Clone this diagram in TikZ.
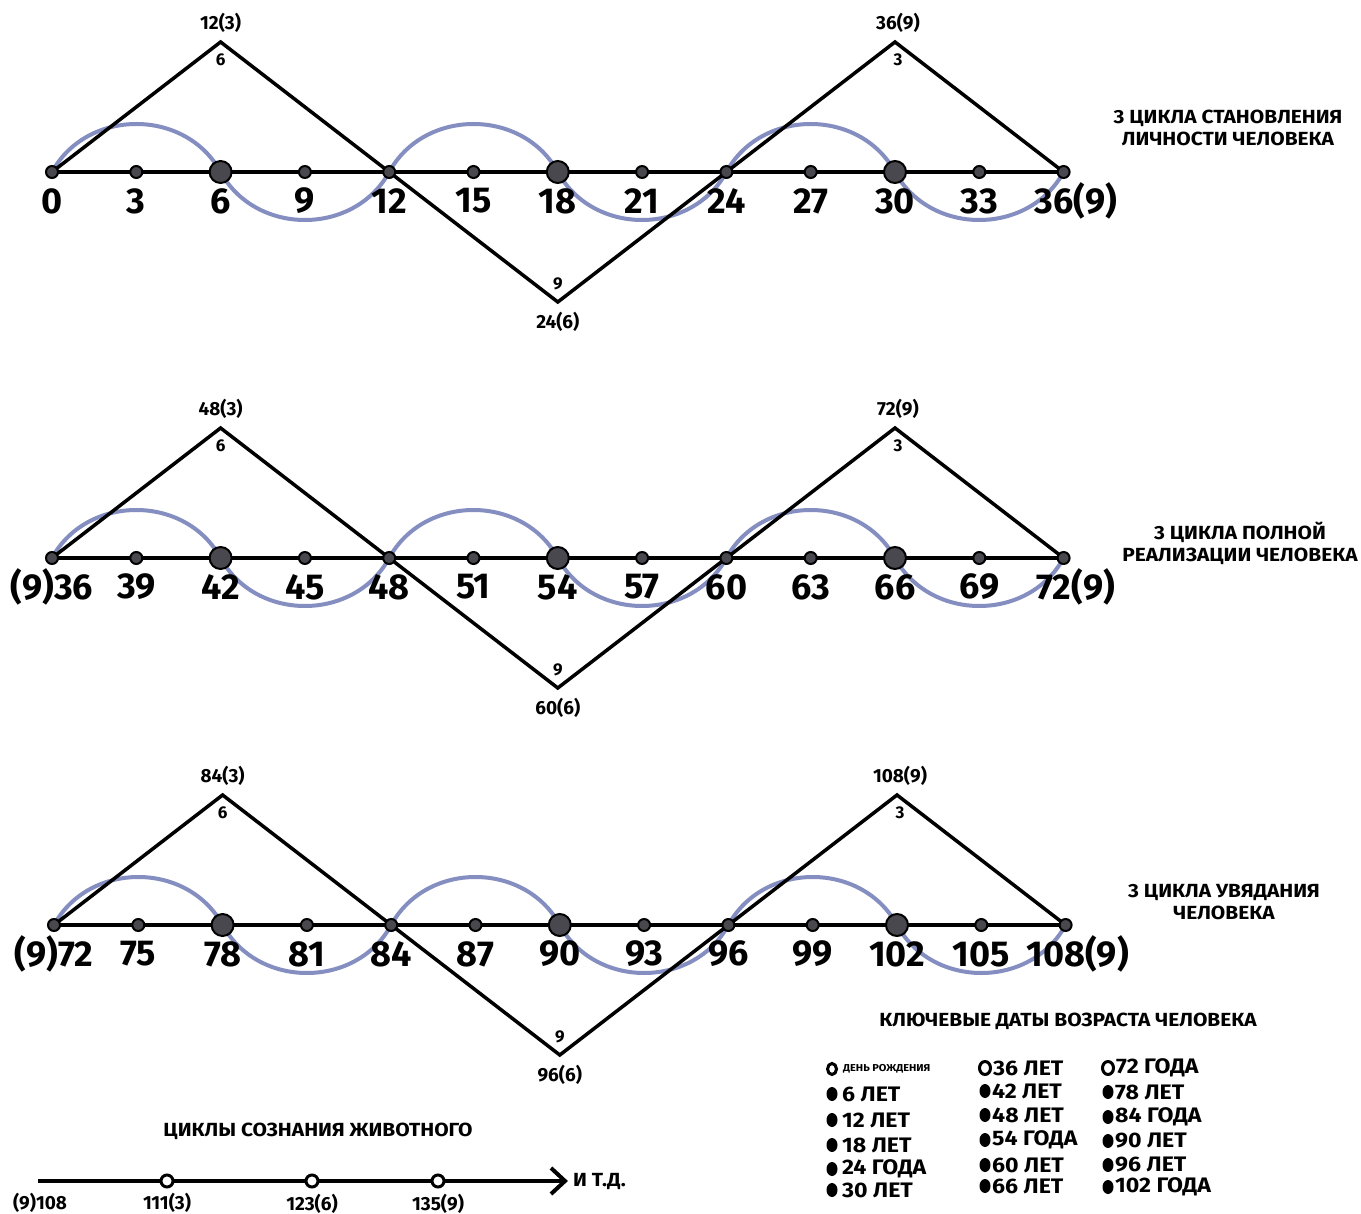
\documentclass[tikz,border=0pt]{standalone}
\usepackage{fontspec}
\setmainfont{Fira Sans}
\newfontfamily\widefont{Fira Sans}[FakeStretch=1.1]
\usetikzlibrary{arrows.meta}
\definecolor{wavec}{RGB}{132,142,192}
\definecolor{dotc}{RGB}{72,72,78}
\newcommand\cyclerow[7]{%
\begin{scope}[shift={(#3,#2)}]
  \foreach \i in {0,...,12} \coordinate (#1p\i) at ({84.3*\i},0);
  \draw[wave] (#1p0) .. controls +(35,-64) and +(-35,-64) .. (#1p2)
                     .. controls +(35,64) and +(-35,64) .. (#1p4)
                     .. controls +(35,-64) and +(-35,-64) .. (#1p6)
                     .. controls +(35,64) and +(-35,64) .. (#1p8)
                     .. controls +(35,-64) and +(-35,-64) .. (#1p10)
                     .. controls +(35,64) and +(-35,64) .. (#1p12);
  \coordinate (#1a) at ({84.3*2},-130);
  \coordinate (#1b) at ({84.3*6},130);
  \coordinate (#1c) at ({84.3*10},-130);
  \draw[axisline] (#1p0) -- (#1p12);
  \draw[zig] (#1p0) -- (#1a) -- (#1b) -- (#1c) -- (#1p12);
  \foreach \i in {0,...,12}{%
    \pgfmathtruncatemacro\m{mod(\i,4)}%
    \ifnum\m=2 \node[bigdot] (#1d\i) at (#1p\i) {};
    \else \node[smalldot] (#1d\i) at (#1p\i) {};\fi}
  \foreach \t [count=\i from 0] in {#4}
    \node[numlab] (#1l\i) at ({84.3*\i + (\i==12)*12}, 29) {\t};
  \node[apexlab] (#1at) at ({84.3*2},-149) {#5};
  \node[innerlab] (#1ai) at ({84.3*2},-112) {6};
  \node[innerlab] (#1bi) at ({84.3*6},112) {9};
  \node[apexlab] (#1bt) at ({84.3*6},150) {#6};
  \node[apexlab] (#1ct) at ({84.3*10+3},-149) {#7};
  \node[innerlab] (#1ci) at ({84.3*10+3},-112) {3};
\end{scope}}
\begin{document}
\begin{tikzpicture}[x=1pt,y=-1pt,
 axisline/.style={line width=4pt},
 zig/.style={line width=3.5pt, line join=miter},
 wave/.style={wavec, line width=4pt},
 smalldot/.style={circle, draw=black, line width=2pt, fill=dotc, inner sep=0pt, minimum size=12pt},
 bigdot/.style={circle, draw=black, line width=2pt, fill=dotc, inner sep=0pt, minimum size=22pt},
 numlab/.style={font=\fontsize{36}{36}\selectfont\bfseries, inner sep=0pt},
 apexlab/.style={font=\fontsize{19}{19}\selectfont\bfseries, inner sep=0pt},
 wordlab/.style={font=\widefont\fontsize{19}{19}\selectfont\bfseries, inner sep=0pt},
 innerlab/.style={font=\fontsize{17}{17}\selectfont\bfseries, inner sep=0pt},
 sidelab/.style={font=\widefont\fontsize{19}{22}\selectfont\bfseries, align=center, inner sep=0pt},
 leglab/.style={font=\widefont\fontsize{21}{21}\selectfont\bfseries, anchor=west, inner sep=0pt},
 tinylab/.style={font=\widefont\fontsize{10}{10}\selectfont\bfseries, anchor=west, inner sep=0pt},
 openmark/.style={draw=black, line width=3pt, fill=white},
 fullmark/.style={fill=black},
 ringdot/.style={circle, draw=black, line width=3pt, fill=white, inner sep=0pt, minimum size=12pt},
]
\useasboundingbox[fill=white] (0,0) rectangle (1361,1214);

\cyclerow{r1}{172}{52}{0,3,6,9,12,15,18,21,24,27,30,33,36(9)}{12(3)}{24(6)}{36(9)}
\cyclerow{r2}{558}{52}{(9)36,39,42,45,48,51,54,57,60,63,66,69,72(9)}{48(3)}{60(6)}{72(9)}
\cyclerow{r3}{925}{54}{(9)72,75,78,81,84,87,90,93,96,99,102,105,108(9)}{84(3)}{96(6)}{108(9)}

\node[sidelab] (s1) at (1228,128) {3 ЦИКЛА СТАНОВЛЕНИЯ\\ЛИЧНОСТИ ЧЕЛОВЕКА};
\node[sidelab] (s2) at (1240,543) {3 ЦИКЛА ПОЛНОЙ\\РЕАЛИЗАЦИИ ЧЕЛОВЕКА};
\node[sidelab] (s3) at (1224,902) {3 ЦИКЛА УВЯДАНИЯ\\ЧЕЛОВЕКА};

% animal cycles
\node[wordlab] (at) at (318,1131) {ЦИКЛЫ СОЗНАНИЯ ЖИВОТНОГО};
\coordinate (as) at (38,1181);
\coordinate (ae) at (565,1181);
\draw[line width=4pt] (as) -- (ae);
\draw[line width=4pt, line join=miter] (ae) ++(-14,-13) -- (ae) -- ++(-14,13);
\node[ringdot] (c1) at (167,1181) {};
\node[ringdot] (c2) at (312,1181) {};
\node[ringdot] (c3) at (438,1181) {};
\node[apexlab] (al0) at (40,1203) {(9)108};
\node[apexlab] (al1) at (167,1203) {111(3)};
\node[apexlab] (al2) at (312,1204) {123(6)};
\node[apexlab] (al3) at (438,1204) {135(9)};
\node[wordlab, anchor=west] (etc) at (573,1181) {И Т.Д.};

% legend
\node[wordlab] (lt) at (1068,1021) {КЛЮЧЕВЫЕ ДАТЫ ВОЗРАСТА ЧЕЛОВЕКА};
\draw[openmark] (832,1069) ellipse (4.5 and 5.5);
\node[tinylab] (t0) at (843,1069) {ДЕНЬ РОЖДЕНИЯ};
\foreach \yy/\tt in {1094/6 ЛЕТ,1120/12 ЛЕТ,1145/18 ЛЕТ,1169/24 ГОДА,1190/30 ЛЕТ}{
  \fill[fullmark] (832,\yy) ellipse (5.5 and 7);
  \node[leglab] at (842,\yy) {\tt};}
\draw[openmark] (985,1068) ellipse (5.5 and 6.5);
\node[leglab] (t2) at (993,1068) {36 ЛЕТ};
\foreach \yy/\tt in {1091/42 ЛЕТ,1115/48 ЛЕТ,1140/54 ГОДА,1165/60 ЛЕТ,1186/66 ЛЕТ}{
  \fill[fullmark] (985,\yy) ellipse (5.5 and 7);
  \node[leglab] at (992,\yy) {\tt};}
\draw[openmark] (1108,1068) ellipse (5.5 and 6.5);
\node[leglab] (t3) at (1116,1068) {72 ГОДА};
\foreach \yy/\tt in {1092/78 ЛЕТ,1117/84 ГОДА,1141/90 ЛЕТ,1165/96 ЛЕТ,1187/102 ГОДА}{
  \fill[fullmark] (1108,\yy) ellipse (5.5 and 7);
  \node[leglab] at (1115,\yy) {\tt};}
\end{tikzpicture}
\end{document}
